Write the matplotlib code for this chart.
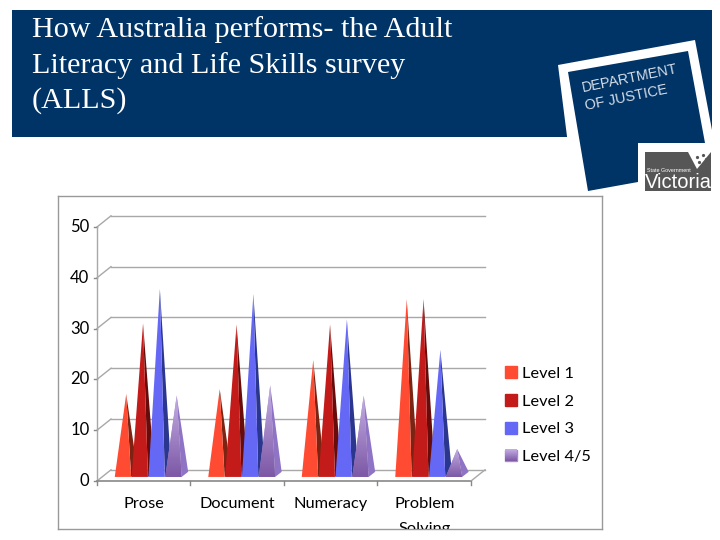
import numpy as np
import matplotlib
matplotlib.use('Agg')
import matplotlib.pyplot as plt
from matplotlib.patches import Polygon, Patch, Rectangle
from matplotlib.colors import LinearSegmentedColormap

categories = ['Prose', 'Document', 'Numeracy', 'Problem\nSolving']
levels = ['Level 1', 'Level 2', 'Level 3', 'Level 4/5']
level1 = [16.3, 17.3, 23, 35]
level2 = [30.2, 30, 30, 35]
level3 = [37, 36, 31, 25]
level45 = [16, 18, 16, 5.5]
yticks = [0, 10, 20, 30, 40, 50]
title_lines = ['How Australia performs- the Adult', 'Literacy and Life Skills survey', '(ALLS)']

NAVY = '#003366'
front_cols = ['#ff4b32', '#c31a1a', '#6468f4', '#a48ccb']
side_cols = ['#7c2414', '#670b0b', '#2b368f', '#8f73c4']

fig = plt.figure(figsize=(7.2, 5.4), dpi=100, facecolor='white')

# slide background in pixel coordinates
bg = fig.add_axes([0, 0, 1, 1])
bg.set_xlim(0, 720)
bg.set_ylim(540, 0)
bg.axis('off')
bg.add_patch(Polygon([(12, 10), (712, 10), (712, 130), (690, 137), (12, 137)], color=NAVY, lw=0))
bg.add_patch(Polygon([(558, 65), (695, 40), (712, 130), (712, 200), (575, 200)], color='white', lw=0))
bg.add_patch(Polygon([(568, 72), (688, 51), (705, 143), (638, 143), (638, 182), (588, 191)], color=NAVY, lw=0))
for i, line in enumerate(title_lines):
    bg.text(32, 30 + i * 35.5, line, family='Liberation Serif', fontsize=21.7, color='white', va='center')
bg.text(582, 88, 'DEPARTMENT', family='Liberation Sans', fontsize=10.4, color='#d5dde6', rotation=11.5,
        va='center', rotation_mode='anchor')
bg.text(585, 106, 'OF JUSTICE', family='Liberation Sans', fontsize=10.4, color='#d5dde6', rotation=11.5,
        va='center', rotation_mode='anchor')
# Victoria logo
bg.add_patch(Rectangle((645, 152), 66, 39, color='#565656', lw=0))
bg.add_patch(Polygon([(688, 152), (711, 152), (697, 169)], color='white', lw=0))
for dx, dy in [(697, 157), (703, 155), (699, 162), (706, 159)]:
    bg.plot(dx, dy, 'o', ms=1.3, color='#565656')
bg.text(647, 171, 'State Government', family='Liberation Sans', fontsize=3.9, color='white', va='center')
bg.text(645, 183, 'Victoria', family='Liberation Sans', fontsize=14.5, color='white', va='center')

# chart box, limits worked out so 0 sits at px 481 and 50 at px 227
ax = fig.add_axes([58 / 720, 1 - 529 / 540, 544 / 720, 333 / 540])
ax.set_xlim(-0.417, 5.401)
ax.set_ylim(-9.45, 56.1)
ax.set_xticks([])
ax.set_yticks([])
for s in ax.spines.values():
    s.set_color('#999999')
    s.set_linewidth(1)

depth_x = 0.15
depth_y = 2.2
grid_c = '#a8a8a8'
n_cat = len(categories)

# walls, gridlines and floor
for v in yticks:
    ax.plot([depth_x, n_cat + depth_x], [v + depth_y, v + depth_y], color=grid_c, lw=1, zorder=1)
    ax.plot([0, depth_x], [v, v + depth_y], color=grid_c, lw=1, zorder=1)
    ax.plot([-0.035, 0], [v, v], color='#888888', lw=1, zorder=1)
    ax.text(-0.08, v, str(v), family='Lato', fontsize=12, ha='right', va='center')
ax.plot([0, 0], [0, 50], color=grid_c, lw=1, zorder=1)
ax.plot([0, n_cat], [0, 0], color='#888888', lw=1.2, zorder=1)
ax.plot([n_cat, n_cat + depth_x], [0, depth_y], color=grid_c, lw=1, zorder=1)
for c in range(n_cat + 1):
    ax.plot([c, c], [0, -0.8], color='#888888', lw=1, zorder=1)

for c, name in enumerate(categories):
    ax.text(c + 0.5, -3.1, name, family='Lato', fontsize=11.8, ha='center', va='top',
            linespacing=2.0, clip_on=True)

# cones
width = 0.18
start = 0.19
base = 0.8
cmap = LinearSegmentedColormap.from_list('lvl4', ['#7d58a6', '#c4aee4'])
series = [level1, level2, level3, level45]
z = 3
for c in range(n_cat):
    for k, values in enumerate(series):
        x0 = c + start + k * width
        x1 = x0 + width - 0.005
        tip_x = (x0 + x1) / 2 + 0.035
        tip_y = base + values[c]
        ax.add_patch(Polygon([(tip_x, tip_y), (x1, base), (x1 + 0.07, base + 1)],
                             color=side_cols[k], lw=0, zorder=z))
        z += 1
        front = Polygon([(x0, base), (tip_x, tip_y), (x1, base)], color=front_cols[k], lw=0, zorder=z)
        ax.add_patch(front)
        if k == 3:
            im = ax.imshow(np.linspace(1, 0, 64).reshape(-1, 1), cmap=cmap, aspect='auto', zorder=z + 0.5,
                           extent=(x0, x1, base, tip_y))
            im.set_clip_path(front)
        z += 1
ax.set_xlim(-0.417, 5.401)
ax.set_ylim(-9.45, 56.1)

handles = [Patch(color=col, label=lab) for col, lab in zip(front_cols, levels)]
leg = ax.legend(handles=handles, frameon=False, loc='center left', bbox_to_anchor=(0.8065, 0.3415),
                prop={'family': 'Lato', 'size': 11.8}, handlelength=0.72, handleheight=0.72,
                handletextpad=0.3, labelspacing=0.8, borderpad=0)

# gradient on the last legend swatch, same as its cones
fig.canvas.draw()
ext = leg.get_patches()[3].get_window_extent().transformed(ax.transData.inverted())
ax.imshow(np.linspace(1, 0, 32).reshape(-1, 1), cmap=cmap, aspect='auto', zorder=100,
          extent=(ext.x0, ext.x1, ext.y0, ext.y1))
ax.set_xlim(-0.417, 5.401)
ax.set_ylim(-9.45, 56.1)

fig.savefig('out.png', dpi=100)
